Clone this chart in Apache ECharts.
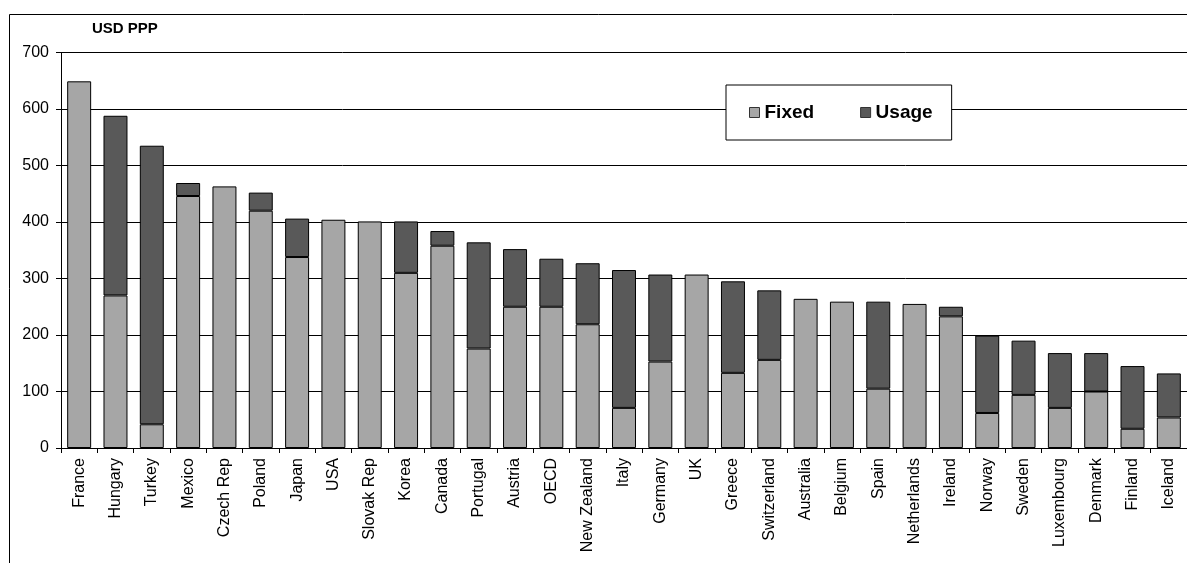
<!DOCTYPE html>
<html>
<head>
<meta charset="utf-8">
<script src="https://cdn.jsdelivr.net/npm/echarts@6/dist/echarts.min.js"></script>
<style>
  html, body { margin: 0; padding: 0; background: #fff; }
  #chart { width: 1187px; height: 563px; }
</style>
</head>
<body>
<div id="chart"></div>
<script>
// values, USD PPP (null = no usage part)
const countries = ["France", "Hungary", "Turkey", "Mexico", "Czech Rep", "Poland", "Japan", "USA",
  "Slovak Rep", "Korea", "Canada", "Portugal", "Austria", "OECD", "New Zealand", "Italy", "Germany",
  "UK", "Greece", "Switzerland", "Australia", "Belgium", "Spain", "Netherlands", "Ireland", "Norway",
  "Sweden", "Luxembourg", "Denmark", "Finland", "Iceland"];
const fixed = [649, 270, 42, 446, 463, 420, 338, 404, 401, 310, 358, 176, 250, 250, 219, 71, 153,
  307, 133, 156, 264, 259, 105, 255, 233, 62, 94, 71, 100, 34, 54];
const usage = [null, 318, 493, 23, null, 32, 68, null, null, 91, 26, 188, 102, 85, 108, 244, 154,
  null, 162, 123, null, null, 154, null, 17, 137, 96, 97, 68, 111, 78];
const yTicks = [0, 100, 200, 300, 400, 500, 600, 700];

const font = "Arial, 'Liberation Sans', sans-serif";
const chart = echarts.init(document.getElementById("chart"), null, { renderer: "canvas" });

const barStyle = (color) => ({ color, borderColor: "#000", borderWidth: 1 });

chart.setOption({
  animation: false,
  backgroundColor: "#fff",
  textStyle: { fontFamily: font, color: "#000" },
  title: {
    text: "USD PPP",
    left: 92, top: 21, padding: 0,
    textStyle: { fontFamily: font, fontSize: 15, fontWeight: "bold", color: "#000" }
  },
  legend: {
    data: ["Fixed", "Usage"],
    left: 726, top: 85,
    padding: [18, 19, 18, 23],
    itemGap: 46,
    itemWidth: 10, itemHeight: 10,
    icon: "rect",
    backgroundColor: "#fff",
    borderColor: "#000", borderWidth: 1,
    textStyle: { fontFamily: font, fontSize: 19, fontWeight: "bold", color: "#000" },
    itemStyle: { borderColor: "#333", borderWidth: 1 }
  },
  grid: { left: 61, right: 0, top: 52.5, bottom: 115, containLabel: false },
  xAxis: {
    type: "category",
    data: countries,
    axisLine: { lineStyle: { color: "#000", width: 1 } },
    axisTick: { show: true, length: 5, lineStyle: { color: "#000" } },
    axisLabel: { rotate: 90, fontFamily: font, fontSize: 16, color: "#000", margin: 10, interval: 0 }
  },
  yAxis: {
    type: "value",
    min: 0, max: 700, interval: 100,
    axisLine: { show: true, lineStyle: { color: "#000", width: 1 } },
    axisTick: { show: true, length: 5, lineStyle: { color: "#000" } },
    axisLabel: {
      fontFamily: font, fontSize: 16, color: "#000", margin: 12,
      formatter: (v) => (yTicks.includes(v) ? String(v) : "")
    },
    splitLine: { show: true, lineStyle: { color: "#000", width: 1 } }
  },
  series: [
    { name: "Fixed", type: "bar", stack: "total", data: fixed, barWidth: "66%", itemStyle: barStyle("#a6a6a6") },
    { name: "Usage", type: "bar", stack: "total", data: usage, barWidth: "66%", itemStyle: barStyle("#595959") }
  ],
  graphic: [
    {
      type: "polyline",
      shape: { points: [[9.5, 563], [9.5, 14.5], [1187, 14.5]] },
      style: { stroke: "#000", lineWidth: 1, fill: null },
      silent: true
    }
  ]
});
</script>
</body>
</html>
